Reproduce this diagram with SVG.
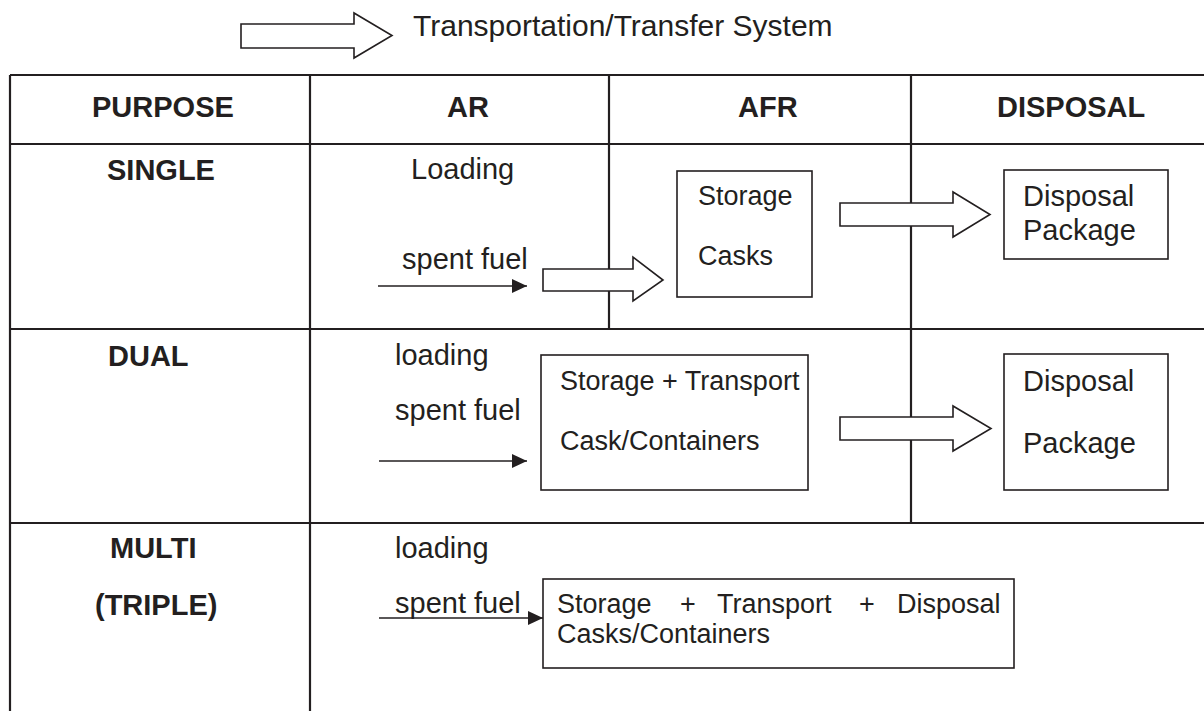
<svg xmlns="http://www.w3.org/2000/svg" width="1204" height="711" viewBox="0 0 1204 711">
<style>
  text { font-family: "Liberation Sans", Arial, sans-serif; font-size: 29px; fill: #231f20; }
  .b { font-weight: bold; }
  .s { font-size: 27px; }
  .t { font-size: 30px; }
  .grid { stroke: #231f20; stroke-width: 2.2; fill: none; }
  .box { stroke: #231f20; stroke-width: 1.6; fill: #ffffff; }
  .blk { stroke: #231f20; stroke-width: 1.6; fill: #ffffff; stroke-linejoin: miter; }
  .line { stroke: #231f20; stroke-width: 1.6; fill: none; }
</style>
<defs>
  <marker id="ah" markerWidth="15" markerHeight="14" refX="15" refY="7" orient="auto" markerUnits="userSpaceOnUse">
    <path d="M0,0 L15,7 L0,14 Z" fill="#231f20"/>
  </marker>
</defs>
<rect width="1204" height="711" fill="#ffffff"/>

<g id="legend">
  <path class="blk" d="M241,24 H354 V13 L392,35.5 L354,58 V48 H241 Z"/>
  <text class="t" x="413" y="36">Transportation/Transfer System</text>
</g>

<g id="table">
  <line class="grid" x1="10" y1="75" x2="1204" y2="75"/>
  <line class="grid" x1="10" y1="144" x2="1204" y2="144"/>
  <line class="grid" x1="10" y1="329" x2="1204" y2="329"/>
  <line class="grid" x1="10" y1="523" x2="1204" y2="523"/>
  <line class="grid" x1="10" y1="75" x2="10" y2="711"/>
  <line class="grid" x1="310" y1="75" x2="310" y2="711"/>
  <line class="grid" x1="609" y1="75" x2="609" y2="329"/>
  <line class="grid" x1="911" y1="75" x2="911" y2="523"/>
  <text class="b" x="92" y="117">PURPOSE</text>
  <text class="b" x="447" y="117">AR</text>
  <text class="b" x="738" y="117">AFR</text>
  <text class="b" x="997" y="117">DISPOSAL</text>
  <text class="b" x="107" y="180">SINGLE</text>
  <text class="b" x="108" y="366">DUAL</text>
  <text class="b" x="110" y="558">MULTI</text>
  <text class="b" x="95" y="615">(TRIPLE)</text>
  <text x="411" y="179">Loading</text>
  <text x="402" y="269">spent fuel</text>
  <text x="395" y="365">loading</text>
  <text x="395" y="420">spent fuel</text>
  <text x="395" y="558">loading</text>
  <text x="395" y="613">spent fuel</text>
</g>

<g id="storage-casks">
  <rect class="box" x="677" y="171" width="135" height="126"/>
  <text class="s" x="698" y="205">Storage</text>
  <text class="s" x="698" y="265">Casks</text>
</g>

<g id="disposal-package-1">
  <rect class="box" x="1004" y="170" width="164" height="89"/>
  <text x="1023" y="206">Disposal</text>
  <text x="1023" y="240">Package</text>
</g>

<g id="storage-transport">
  <rect class="box" x="541" y="355" width="267" height="135"/>
  <text class="s" x="560" y="390">Storage + Transport</text>
  <text class="s" x="560" y="450">Cask/Containers</text>
</g>

<g id="disposal-package-2">
  <rect class="box" x="1004" y="354" width="164" height="136"/>
  <text x="1023" y="391">Disposal</text>
  <text x="1023" y="453">Package</text>
</g>

<g id="storage-transport-disposal">
  <rect class="box" x="543" y="579" width="471" height="89"/>
  <text class="s" y="613"><tspan x="557">Storage</tspan><tspan x="680">+</tspan><tspan x="717">Transport</tspan><tspan x="859">+</tspan><tspan x="897">Disposal</tspan></text>
  <text class="s" x="557" y="643">Casks/Containers</text>
</g>

<g id="connectors">
  <line class="line" x1="378" y1="286" x2="527" y2="286" marker-end="url(#ah)"/>
  <line class="line" x1="379" y1="461" x2="527" y2="461" marker-end="url(#ah)"/>
  <line class="line" x1="379" y1="618" x2="543" y2="618" marker-end="url(#ah)"/>
  <path class="blk" d="M543,269 H633 V257 L663,280 L633,301 V291 H543 Z"/>
  <path class="blk" d="M840,203 H953 V192 L990,214.5 L953,237 V226 H840 Z"/>
  <path class="blk" d="M840,417 H953 V406 L991,428.5 L953,451 V440 H840 Z"/>
</g>
</svg>
